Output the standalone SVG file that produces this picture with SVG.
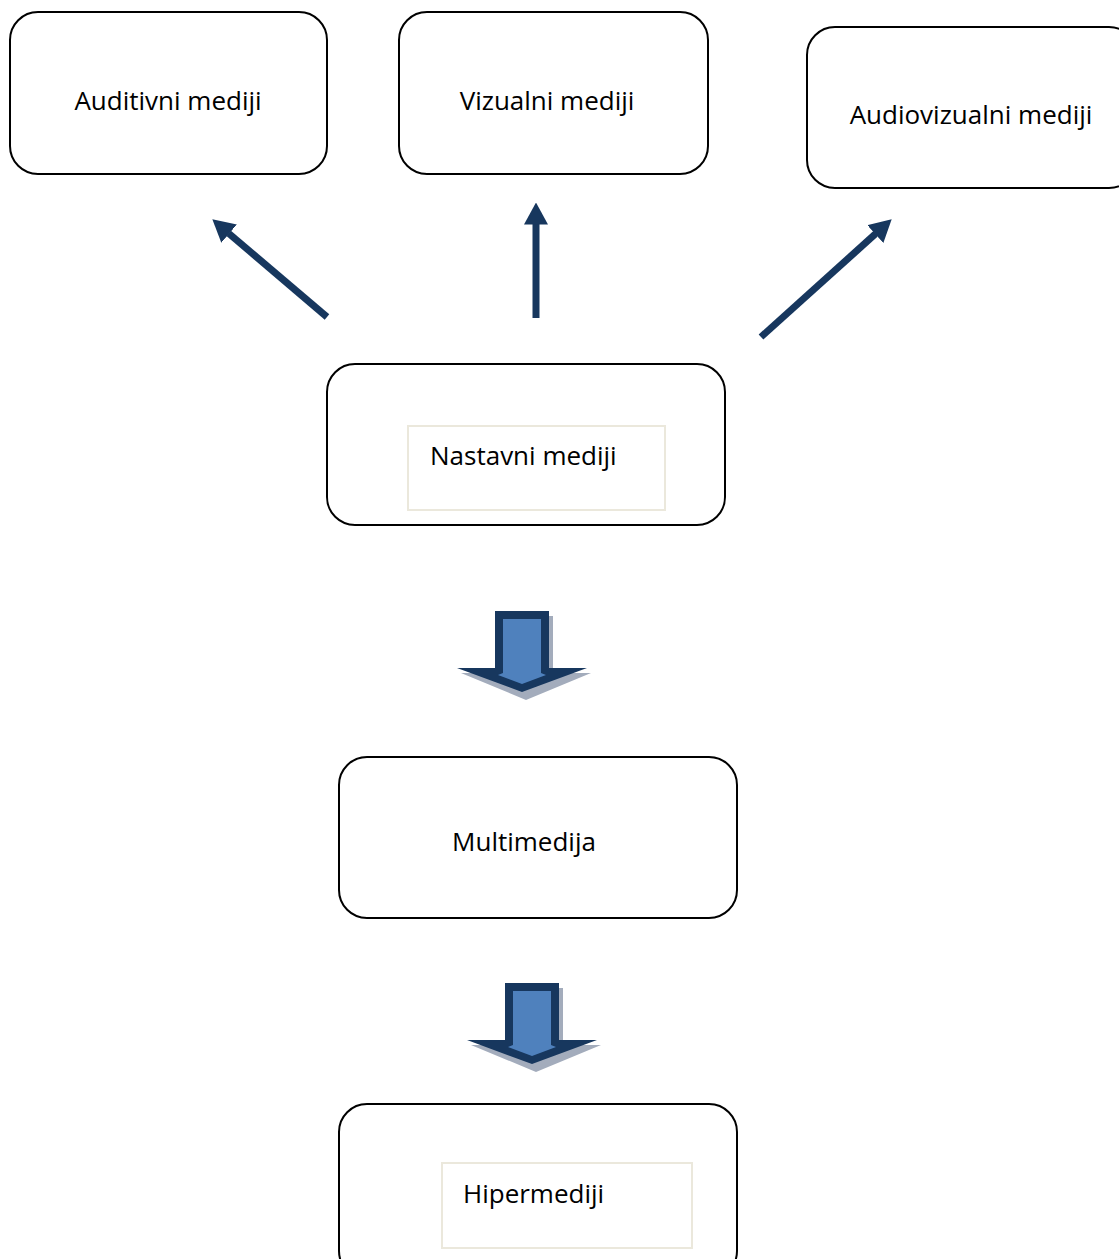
<svg xmlns="http://www.w3.org/2000/svg" width="1119" height="1259" viewBox="0 0 1119 1259">
<style>
.box{fill:#fff;stroke:#000;stroke-width:2}
.inner{fill:#fff;stroke:#ebe8dc;stroke-width:2}
.t{font-family:"Open Sans","Noto Sans",sans-serif;font-size:26px;fill:#000}
.c{text-anchor:middle}
.conn{stroke:#17375e;stroke-width:7;fill:none}
.bdark{fill:#17375e}
.blight{fill:#4f81bd}
.bshadow{fill:#a3acbc}
</style>
<defs>
<marker id="ah" markerUnits="userSpaceOnUse" viewBox="0 0 22 24" markerWidth="22" markerHeight="24" refX="0.5" refY="12" orient="auto">
<path d="M0,0 L22,12 L0,24 z" fill="#17375e"/>
</marker>
<g id="block">
<polygon class="bshadow" points="499,616 553,616 553,673 591,673 526,700 461,673 499,673"/>
<polygon class="bdark" points="495,611 549,611 549,668 587,668 522,692 457,668 495,668"/>
<polygon class="blight" points="503,619 541,619 541,673 546,675 522,684 498,675 503,673"/>
</g>
</defs>
<g id="n-auditivni"><rect class="box" x="10" y="12" width="317" height="162" rx="28"/><text class="t c" x="168" y="110">Auditivni mediji</text></g>
<g id="n-vizualni"><rect class="box" x="399" y="12" width="309" height="162" rx="28"/><text class="t c" x="547" y="110">Vizualni mediji</text></g>
<g id="n-audiovizualni"><rect class="box" x="807" y="27" width="330" height="161" rx="28"/><text class="t c" x="971" y="124">Audiovizualni mediji</text></g>
<g id="n-nastavni"><rect class="box" x="327" y="364" width="398" height="161" rx="28"/><rect class="inner" x="408" y="426" width="257" height="84"/><text class="t" x="430" y="465">Nastavni mediji</text></g>
<g id="n-multimedija"><rect class="box" x="339" y="757" width="398" height="161" rx="28"/><text class="t c" x="524" y="851">Multimedija</text></g>
<g id="n-hipermediji"><rect class="box" x="339" y="1104" width="398" height="175" rx="28"/><rect class="inner" x="442" y="1163" width="250" height="85"/><text class="t" x="463" y="1203">Hipermediji</text></g>
<g id="connectors">
<line class="conn" x1="327" y1="317" x2="228.7" y2="233.3" marker-end="url(#ah)"/>
<line class="conn" x1="536" y1="318" x2="536" y2="224" marker-end="url(#ah)"/>
<line class="conn" x1="761" y1="337" x2="875.7" y2="233.7" marker-end="url(#ah)"/>
<use href="#block"/>
<use href="#block" transform="translate(10,372)"/>
</g>
</svg>
